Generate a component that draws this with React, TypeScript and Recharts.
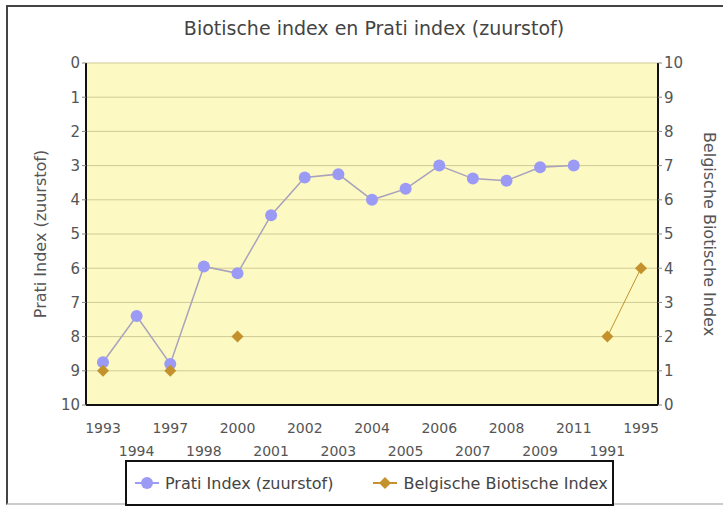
import React from "react";
import {
  LineChart, Line, XAxis, YAxis, CartesianGrid,
} from "recharts";

const years = [
  "1993", "1994", "1997", "1998", "2000", "2001", "2002", "2003", "2004",
  "2005", "2006", "2007", "2008", "2009", "2011", "1991", "1995",
];
const prati = [
  8.75, 7.4, 8.8, 5.95, 6.15, 4.45, 3.35, 3.25, 4.0,
  3.68, 3.0, 3.38, 3.44, 3.05, 3.0, null, null,
];
const biotic = [
  1, null, 1, null, 2, null, null, null, null,
  null, null, null, null, null, null, 2, 4,
];
const leftTicks = [0, 1, 2, 3, 4, 5, 6, 7, 8, 9, 10];
const rightTicks = [0, 1, 2, 3, 4, 5, 6, 7, 8, 9, 10];

const data = years.map((y, i) => ({ year: y, prati: prati[i], biotic: biotic[i] }));

const FONT = "'DejaVu Sans', sans-serif";
const PRATI_DOT = "#9b9bf5";
const PRATI_LINE = "#a8a2bc";
const BIO = "#c4922c";

const Diamond = (props: any) => {
  const { cx, cy, value } = props;
  if (value == null || cx == null || cy == null) return null;
  const r = 6;
  return (
    <polygon
      points={`${cx},${cy - r} ${cx + r},${cy} ${cx},${cy + r} ${cx - r},${cy}`}
      fill={BIO}
    />
  );
};

const YearTick = (props: any) => {
  const { x, y, payload, index } = props;
  return (
    <text
      x={x}
      y={y}
      dy={index % 2 === 0 ? 20 : 43}
      textAnchor="middle"
      fontSize={14}
      fill="#555"
      fontFamily={FONT}
    >
      {payload.value}
    </text>
  );
};

export default function App() {
  return (
    <div style={{ position: "absolute", left: 0, top: 0, width: 723, height: 508, background: "#fff", overflow: "hidden" }}>
      <div
        style={{
          position: "absolute", left: 6, top: 5, width: 740, height: 500,
          border: "2px solid #444", borderBottomColor: "#ccc", boxSizing: "border-box",
        }}
      />
      <div
        style={{
          position: "absolute", left: 0, width: 748, top: 17, textAlign: "center",
          fontFamily: FONT, fontSize: 19, color: "#444",
        }}
      >
        Biotische index en Prati index (zuurstof)
      </div>
      <div style={{ position: "absolute", left: 0, top: 0 }}>
        <LineChart
          width={723}
          height={508}
          data={data}
          margin={{ top: 63, right: 0, bottom: 53, left: 0 }}
        >
          <CartesianGrid vertical={false} stroke="#cfcb98" fill="#fdf9c2" yAxisId="left" />
          <XAxis
            dataKey="year"
            interval={0}
            tick={<YearTick />}
            tickLine={false}
            padding={{ left: 17, right: 17 }}
            axisLine={{ stroke: "#111", strokeWidth: 2 }}
            height={50}
          />
          <YAxis
            yAxisId="left"
            domain={[0, 10]}
            ticks={leftTicks}
            reversed
            width={86}
            tickSize={4}
            tickLine={{ stroke: "#888" }}
            axisLine={{ stroke: "#111", strokeWidth: 2 }}
            tick={{ fontSize: 15, fill: "#555", fontFamily: FONT }}
            label={{
              value: "Prati Index (zuurstof)", angle: -90, position: "insideLeft",
              offset: 40, style: { textAnchor: "middle", fontSize: 16, fill: "#555", fontFamily: FONT },
            }}
          />
          <YAxis
            yAxisId="right"
            orientation="right"
            domain={[0, 10]}
            ticks={rightTicks}
            width={65}
            tickSize={4}
            tickLine={{ stroke: "#888" }}
            axisLine={{ stroke: "#111", strokeWidth: 2 }}
            tick={{ fontSize: 15, fill: "#555", fontFamily: FONT }}
            label={{
              value: "Belgische Biotische Index", angle: 90, position: "insideRight",
              offset: 13, style: { textAnchor: "middle", fontSize: 16, fill: "#555", fontFamily: FONT },
            }}
          />
          <Line
            yAxisId="left"
            dataKey="prati"
            stroke={PRATI_LINE}
            strokeWidth={1.5}
            dot={{ r: 6, fill: PRATI_DOT, stroke: "none" }}
            activeDot={false}
            isAnimationActive={false}
          />
          <Line
            yAxisId="right"
            dataKey="biotic"
            stroke={BIO}
            strokeWidth={1}
            dot={<Diamond />}
            activeDot={false}
            isAnimationActive={false}
          />
        </LineChart>
      </div>
      <div
        style={{
          position: "absolute", left: 125, top: 460, width: 489, height: 46,
          border: "2px solid #111", boxSizing: "border-box", background: "#fff",
          display: "flex", alignItems: "center", fontFamily: FONT, fontSize: 16, color: "#444",
        }}
      >
        <svg width={24} height={14} style={{ marginLeft: 8 }}>
          <line x1={0} y1={7} x2={24} y2={7} stroke={PRATI_DOT} strokeWidth={2} />
          <circle cx={12} cy={7} r={6} fill={PRATI_DOT} />
        </svg>
        <span style={{ marginLeft: 6 }}>Prati Index (zuurstof)</span>
        <svg width={24} height={14} style={{ marginLeft: 40 }}>
          <line x1={0} y1={7} x2={24} y2={7} stroke={BIO} strokeWidth={2} />
          <polygon points="12,1 18,7 12,13 6,7" fill={BIO} />
        </svg>
        <span style={{ marginLeft: 6 }}>Belgische Biotische Index</span>
      </div>
    </div>
  );
}
